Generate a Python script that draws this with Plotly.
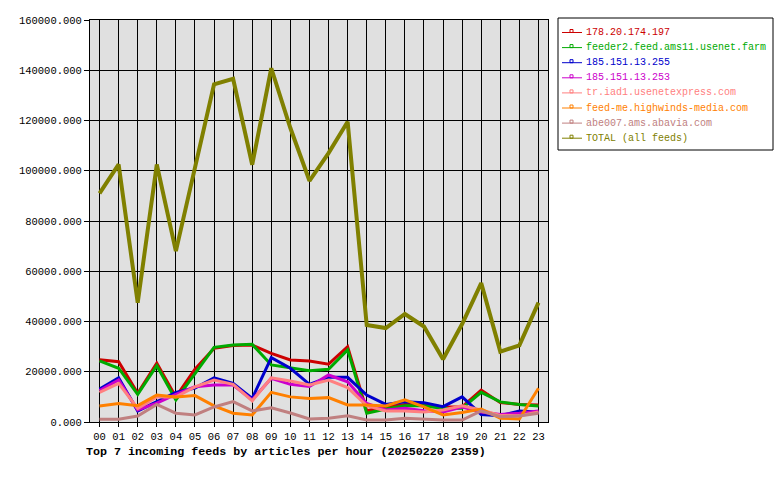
import plotly.graph_objects as go

hours = [f"{h:02d}" for h in range(24)]

names = [
    "178.20.174.197",
    "feeder2.feed.ams11.usenet.farm",
    "185.151.13.255",
    "185.151.13.253",
    "tr.iad1.usenetexpress.com",
    "feed-me.highwinds-media.com",
    "abe007.ams.abavia.com",
    "TOTAL (all feeds)",
]
colors = ["#cc0000", "#00aa00", "#0000cc", "#cc00cc", "#ff8080", "#ff8000", "#c08080", "#808000"]

s_red = [24800, 24000, 11400, 23400, 10000, 21000, 29300, 30400, 30600, 27300, 24700, 24300,
         23000, 30000, 4500, 6000, 7000, 7000, 6000, 6000, 12700, 7700, 7000, 6800]
s_green = [24300, 21400, 11000, 22400, 8800, 19000, 29700, 30600, 30900, 22700, 21400, 20400,
           21000, 28700, 3500, 5200, 6500, 6500, 5400, 5500, 11800, 8000, 7000, 6400]
s_blue = [13100, 17600, 4400, 8100, 11800, 13500, 17600, 15400, 9400, 25600, 21400, 15000,
          17800, 17800, 10700, 7000, 8100, 7700, 6100, 10000, 3000, 2500, 4400, 4000]
s_magenta = [12500, 16700, 4800, 7500, 11000, 14000, 14700, 14700, 8800, 17400, 15000, 14100,
             18700, 16000, 7400, 4800, 5500, 4500, 4000, 6000, 4000, 3000, 3500, 4400]
s_pink = [11800, 15400, 5400, 10000, 10000, 14000, 16700, 15000, 8400, 17600, 16300, 14700,
          16700, 13700, 6500, 4400, 4400, 4000, 4800, 6500, 4800, 2600, 2500, 4000]
s_orange = [6400, 7400, 6500, 10700, 10000, 10500, 6400, 3500, 2800, 11800, 10000, 9400,
            9700, 6800, 6800, 6400, 8800, 6000, 2800, 3800, 5200, 1500, 1200, 13400]
s_rosy = [1100, 1100, 2400, 7000, 3500, 2800, 6000, 8100, 4400, 5700, 3600, 1200,
          1500, 2500, 800, 800, 1500, 1200, 800, 800, 4400, 2100, 2400, 3500]
s_total = [91000, 102500, 47500, 102500, 68000, 101000, 134400, 136600, 102400, 140800, 117000, 96000,
           107000, 119500, 38600, 37400, 43000, 38000, 25000, 39000, 55300, 28000, 30500, 47500]

series = [s_red, s_green, s_blue, s_magenta, s_pink, s_orange, s_rosy, s_total]

MONO = "Liberation Mono, DejaVu Sans Mono, monospace"

fig = go.Figure()
xs = list(range(24))
for i, (nm, col, ys) in enumerate(zip(names, colors, series)):
    fig.add_trace(go.Scatter(
        x=xs, y=ys, name=nm, mode="lines",
        line=dict(color=col, width=4 if i == 7 else 3),
        showlegend=False,
    ))

# plot area in pixels
L, R, T, B = 90, 548, 20, 422
W, H = R - L, B - T

def px(x):
    return (x - L) / W

def py(y):
    return (B - y) / H

shapes = []
annotations = []

# legend box
shapes.append(dict(type="rect", xref="paper", yref="paper",
                   x0=px(558), x1=px(773), y0=py(150), y1=py(18),
                   line=dict(color="black", width=1), fillcolor="white", layer="above"))
for i, (nm, col) in enumerate(zip(names, colors)):
    yc = 32.5 + 15.1 * i
    shapes.append(dict(type="line", xref="paper", yref="paper",
                       x0=px(562), x1=px(582), y0=py(yc), y1=py(yc),
                       line=dict(color=col, width=1), layer="above"))
    shapes.append(dict(type="rect", xref="paper", yref="paper",
                       x0=px(570), x1=px(573), y0=py(yc), y1=py(yc - 3),
                       line=dict(color=col, width=1), fillcolor="rgba(0,0,0,0)", layer="above"))
    annotations.append(dict(xref="paper", yref="paper", x=px(584), y=py(yc),
                            xanchor="left", yanchor="middle", showarrow=False,
                            text=nm, font=dict(family=MONO, size=10, color=col)))

annotations.append(dict(xref="paper", yref="paper", x=px(84), y=py(452),
                        xanchor="left", yanchor="middle", showarrow=False,
                        text="<b>Top 7 incoming feeds by articles per hour (20250220 2359)</b>",
                        font=dict(family=MONO, size=11.7, color="black")))

fig.update_layout(
    width=780, height=480,
    margin=dict(l=L, r=780 - R, t=T, b=480 - B, pad=0),
    paper_bgcolor="white", plot_bgcolor="#e0e0e0",
    showlegend=False,
    shapes=shapes, annotations=annotations,
    font=dict(family=MONO, size=10, color="black"),
)
fig.update_xaxes(
    range=[-0.5, 23.5], tickvals=xs, ticktext=hours,
    showgrid=True, gridcolor="black", gridwidth=1,
    showline=True, linecolor="black", linewidth=1, mirror=True,
    ticks="outside", ticklen=4, tickcolor="black", zeroline=False,
    tickfont=dict(family=MONO, size=10.5, color="black"),
)
fig.update_yaxes(
    range=[0, 160000], dtick=20000, tickformat=".3f",
    showgrid=True, gridcolor="black", gridwidth=1,
    showline=True, linecolor="black", linewidth=1, mirror=True,
    ticks="outside", ticklen=5, tickcolor="black", zeroline=False,
    tickfont=dict(family=MONO, size=10.5, color="black"),
)

fig.write_html("out.html")
